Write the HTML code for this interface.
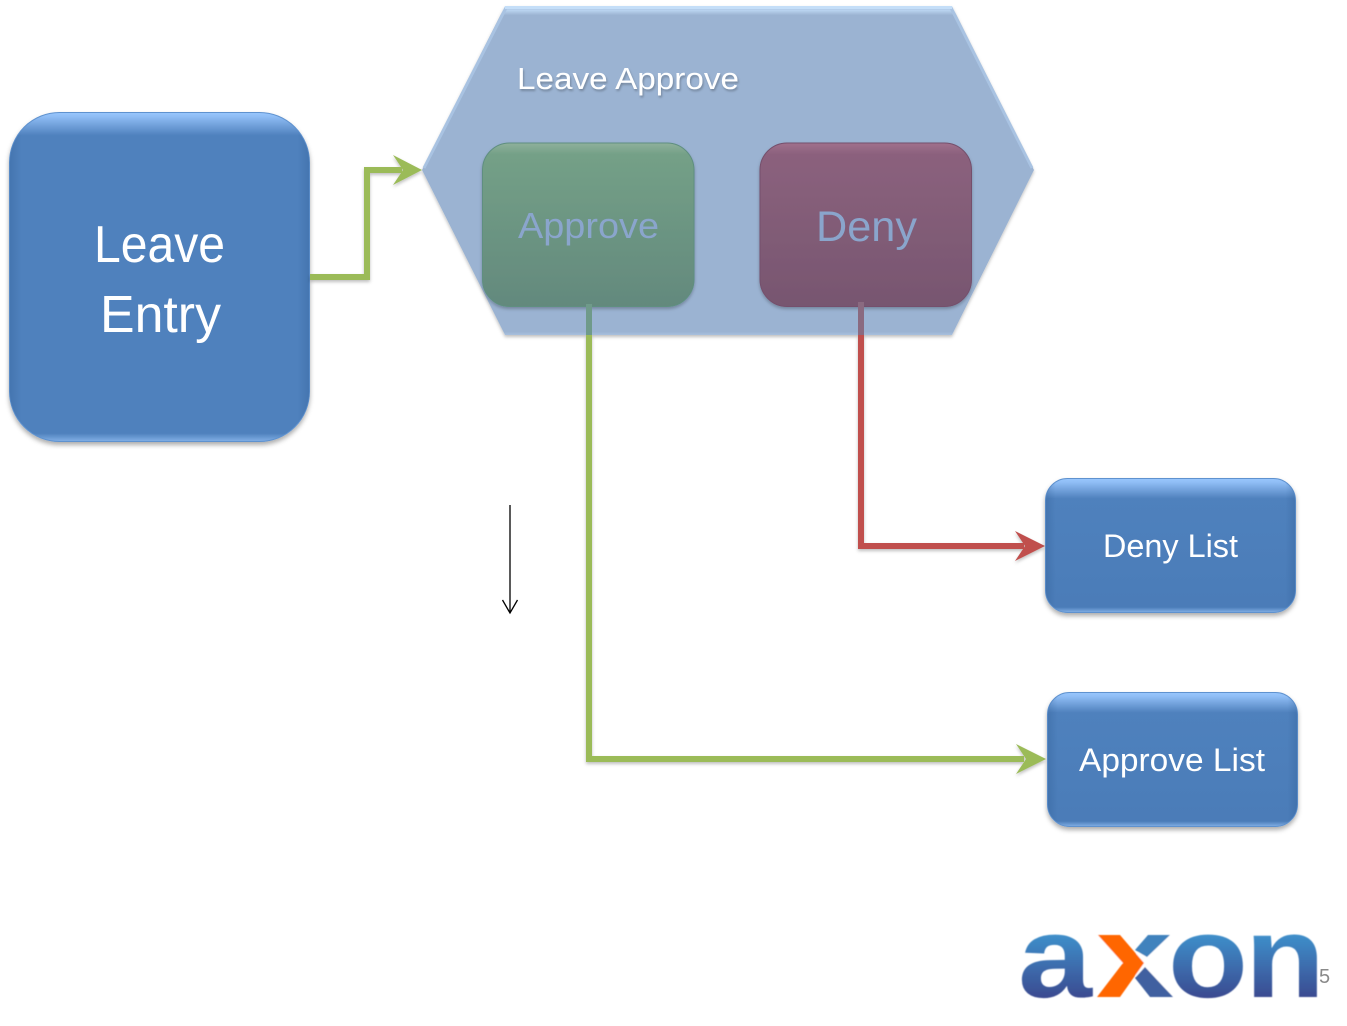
<!DOCTYPE html>
<html><head><meta charset="utf-8"><style>html,body{margin:0;padding:0;background:#fff;width:1347px;height:1026px;overflow:hidden}svg{display:block}text{font-family:"Liberation Sans",sans-serif}</style></head><body>
<svg width="1347" height="1026" viewBox="0 0 1347 1026" xmlns="http://www.w3.org/2000/svg">
<defs>
<linearGradient id="big" x1="0" y1="0" x2="0" y2="1"><stop offset="0" stop-color="#99c7fd"/><stop offset=".012" stop-color="#8fbdf5"/><stop offset=".07" stop-color="#4f81bd"/><stop offset=".975" stop-color="#4f81bd"/><stop offset="1" stop-color="#82b0e6"/></linearGradient>
<linearGradient id="small" x1="0" y1="0" x2="0" y2="1"><stop offset="0" stop-color="#99c7fd"/><stop offset=".03" stop-color="#8fbdf5"/><stop offset=".15" stop-color="#4f81bd"/><stop offset=".96" stop-color="#4b7cb8"/><stop offset="1" stop-color="#82b0e6"/></linearGradient>
<linearGradient id="side" x1="0" y1="0" x2="1" y2="0"><stop offset="0" stop-color="#1f4a80" stop-opacity=".22"/><stop offset=".04" stop-color="#1f4a80" stop-opacity="0"/><stop offset=".96" stop-color="#1f4a80" stop-opacity="0"/><stop offset="1" stop-color="#1f4a80" stop-opacity=".22"/></linearGradient>
<linearGradient id="hex" x1="0" y1="0" x2="0" y2="1"><stop offset="0" stop-color="#c8e2fa"/><stop offset=".012" stop-color="#bcd6f2"/><stop offset=".028" stop-color="#9bb3d2"/><stop offset=".99" stop-color="#9bb3d2"/><stop offset="1" stop-color="#a8c0de"/></linearGradient>
<linearGradient id="gr" x1="0" y1="0" x2="0" y2="1"><stop offset="0" stop-color="#8fb09b"/><stop offset=".07" stop-color="#74a087"/><stop offset="1" stop-color="#63897d"/></linearGradient>
<linearGradient id="rd" x1="0" y1="0" x2="0" y2="1"><stop offset="0" stop-color="#a0708c"/><stop offset=".07" stop-color="#8b617d"/><stop offset="1" stop-color="#775670"/></linearGradient>
<linearGradient id="logo" gradientUnits="userSpaceOnUse" x1="0" y1="935" x2="0" y2="998"><stop offset="0" stop-color="#3f8fca"/><stop offset="1" stop-color="#3a4a90"/></linearGradient>
<filter id="sh" x="-10%" y="-10%" width="120%" height="120%"><feDropShadow dx="0" dy="3" stdDeviation="2.5" flood-color="#000" flood-opacity=".32"/></filter>
<filter id="shs" x="-10%" y="-10%" width="120%" height="120%"><feDropShadow dx="0" dy="2" stdDeviation="1.5" flood-color="#000" flood-opacity=".25"/></filter>
<filter id="ts" x="-10%" y="-30%" width="120%" height="160%"><feDropShadow dx="1" dy="2" stdDeviation="1" flood-color="#000" flood-opacity=".25"/></filter>
<filter id="blur"><feGaussianBlur stdDeviation=".5"/></filter>
</defs>

<!-- Leave Entry -->
<rect x="9.5" y="112.5" width="300" height="329" rx="50" fill="url(#big)" stroke="#5f92cf" stroke-width="1" filter="url(#sh)"/>
<rect x="9.5" y="112.5" width="300" height="329" rx="50" fill="url(#side)"/>
<text x="94" y="262" font-size="52" fill="#fff" textLength="131" lengthAdjust="spacingAndGlyphs">Leave</text>
<text x="100" y="332" font-size="52" fill="#fff" textLength="121" lengthAdjust="spacingAndGlyphs">Entry</text>

<!-- Connector to hexagon -->
<g filter="url(#shs)">
<polyline points="310,277 367,277 367,170 402,170" fill="none" stroke="#9bbb59" stroke-width="6"/>
<polygon points="393,155 422,170 393,185 403,170" fill="#9bbb59"/>
</g>

<!-- Hexagon -->
<polygon points="422,170 505,6 952,6 1034,170 952,335 505,335" fill="url(#hex)" filter="url(#shs)"/>
<polyline points="424,168 506,8 951,8 1032,168" fill="none" stroke="#a9c3e2" stroke-width="3"/>
<polyline points="505,7.5 952,7.5" fill="none" stroke="#c4def8" stroke-width="3"/>
<text x="517" y="89" font-size="31" fill="#fff" textLength="222" lengthAdjust="spacingAndGlyphs" filter="url(#ts)">Leave Approve</text>

<!-- Inner buttons -->
<rect x="482.5" y="143" width="211.5" height="163.5" rx="27" fill="url(#gr)" stroke="#5f8f80" stroke-width="1" filter="url(#shs)"/>
<rect x="760" y="143" width="211.5" height="163.5" rx="27" fill="url(#rd)" stroke="#74506c" stroke-width="1" filter="url(#shs)"/>
<text x="518" y="238" font-size="36" fill="#8aa5cc" textLength="141" lengthAdjust="spacingAndGlyphs">Approve</text>
<text x="816" y="241" font-size="43" fill="#8aa5cc" textLength="101" lengthAdjust="spacingAndGlyphs">Deny</text>

<!-- Approve connector -->
<g filter="url(#shs)">
<polyline points="589,335 589,759 1024,759" fill="none" stroke="#9bbb59" stroke-width="6"/>
<polygon points="1016,744 1046,759 1016,774 1026,759" fill="#9bbb59"/>
<polyline points="861,335 861,546 1024,546" fill="none" stroke="#c0504d" stroke-width="6"/>
<polygon points="1015,531 1045,546 1015,561 1025,546" fill="#c0504d"/>
</g>
<line x1="589" y1="304" x2="589" y2="335" stroke="#6f9a8a" stroke-width="6"/>
<line x1="861" y1="302" x2="861" y2="335" stroke="#8a6a80" stroke-width="6"/>

<!-- Black arrow -->
<line x1="510" y1="505" x2="510" y2="612" stroke="#000" stroke-width="1.3"/>
<polyline points="502.5,600 510,613 517.5,600" fill="none" stroke="#000" stroke-width="1.3"/>

<!-- Lists -->
<rect x="1045.5" y="478.5" width="250" height="134" rx="22" fill="url(#small)" stroke="#5f92cf" stroke-width="1" filter="url(#sh)"/>
<rect x="1045.5" y="478.5" width="250" height="134" rx="22" fill="url(#side)"/>
<text x="1103" y="557" font-size="32" fill="#fff" textLength="135" lengthAdjust="spacingAndGlyphs">Deny List</text>
<rect x="1047.5" y="692.5" width="250" height="134" rx="22" fill="url(#small)" stroke="#5f92cf" stroke-width="1" filter="url(#sh)"/>
<rect x="1047.5" y="692.5" width="250" height="134" rx="22" fill="url(#side)"/>
<text x="1079" y="771" font-size="32" fill="#fff" textLength="186" lengthAdjust="spacingAndGlyphs">Approve List</text>

<!-- Logo -->
<g filter="url(#blur)">
<text x="1018" y="997" font-size="116" font-weight="bold" fill="url(#logo)" textLength="74" lengthAdjust="spacingAndGlyphs">a</text>
<text x="1096" y="997" font-size="116" font-weight="bold" fill="#fff" textLength="78" lengthAdjust="spacingAndGlyphs">x</text>
<polygon points="1098,935 1120,935 1144,963 1120,997 1097,997 1123,963" fill="#ff6600"/>
<polygon points="1147,957 1170,935 1148,935 1135,950" fill="#3f82bd"/>
<polygon points="1135,978 1145,967 1173,997 1150,997" fill="#3f60a0"/>
<text x="1168" y="997" font-size="116" font-weight="bold" fill="url(#logo)" textLength="80" lengthAdjust="spacingAndGlyphs">o</text>
<text x="1245" y="997" font-size="116" font-weight="bold" fill="url(#logo)" textLength="80" lengthAdjust="spacingAndGlyphs">n</text>
</g>
<text x="1319" y="983" font-size="20" fill="#8a8a8a">5</text>
</svg>
</body></html>
